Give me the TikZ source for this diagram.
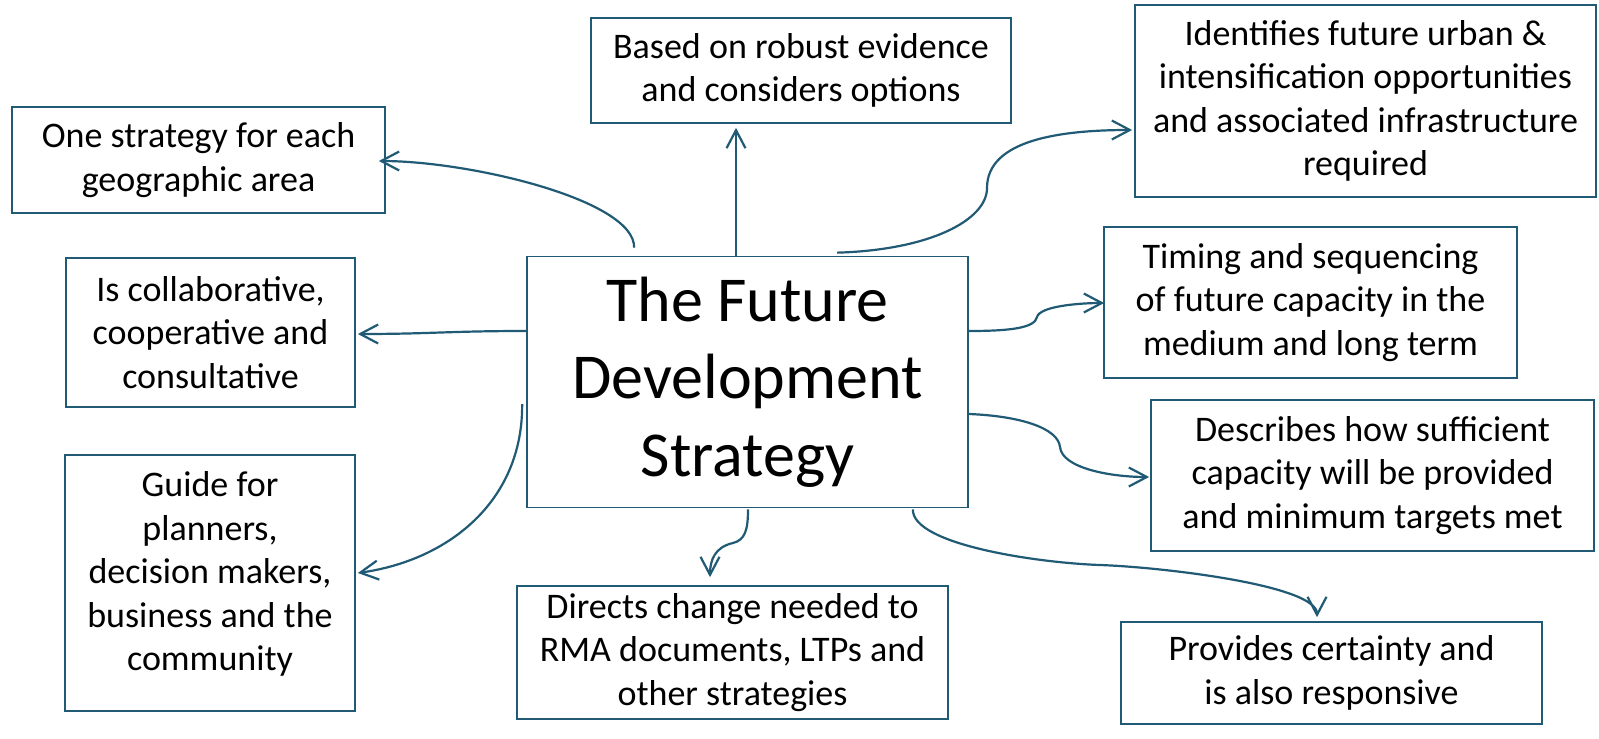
\documentclass[tikz,border=0pt]{standalone}
\usepackage{fontspec}
\setmainfont{Carlito}
\usetikzlibrary{arrows.meta,calc}
\definecolor{teal}{HTML}{215A74}
\tikzset{
  boxtext/.style={align=center, inner sep=0pt, font=\fontsize{18}{21.7}\selectfont, text=black},
  box/.style={boxtext, draw=teal, line width=0.85pt},
  bigbox/.style={box, font=\fontsize{32}{38.8}\selectfont},
  conn/.style={draw=teal, line width=1.1pt, -{Straight Barb[length=9pt,width=9.5pt,line width=1.1pt]}}
}
\begin{document}
\begin{tikzpicture}[x=0.5pt,y=-0.5pt]
\fill[white] (0,0) rectangle (1599,738);
\useasboundingbox (0,0) rectangle (1599,738);

\node[bigbox, minimum width=220.5pt, minimum height=125.5pt] (c) at (747.5,382) {The Future\\Development\\Strategy};
\node[box, minimum width=186.5pt, minimum height=53pt] (one) at (198.5,160) {One strategy for each\\geographic area};
\node[box, minimum width=144.5pt, minimum height=74.5pt] (collab) at (210.5,332.5) {Is collaborative,\\cooperative and\\consultative};
\node[box, minimum width=145pt, minimum height=128pt] (guide) at (210,583) {};
\node[boxtext] (guidetext) at ($(guide.center)+(0,-9)$) {Guide for\\planners,\\decision makers,\\business and the\\community};
\node[box, minimum width=210pt, minimum height=52.5pt] (based) at (801,70.5) {Based on robust evidence\\and considers options};
\node[box, minimum width=230.5pt, minimum height=96pt] (iden) at (1365.5,101) {Identifies future urban \&\\intensification opportunities\\and associated infrastructure\\required};
\node[box, minimum width=206.5pt, minimum height=75.5pt] (timing) at (1310.5,302.5) {Timing and sequencing\\of future capacity in the\\medium and long term};
\node[box, minimum width=221.5pt, minimum height=75.5pt] (desc) at (1372.5,475.5) {Describes how sufficient\\capacity will be provided\\and minimum targets met};
\node[box, minimum width=215.5pt, minimum height=66.5pt] (directs) at (732.5,652.5) {Directs change needed to\\RMA documents, LTPs and\\other strategies};
\node[box, minimum width=210.5pt, minimum height=51pt] (prov) at (1331.5,673) {Provides certainty and\\is also responsive};

% connectors
\draw[conn] ($(c.north west)+(108,-8)$) .. controls (635,200) and (470,161) .. ($(one.east)+(-7,1)$);
\draw[conn] ($(c.north)+(-11.5,0)$) -- ($(based.south)+(-65,4)$);
\draw[conn] ($(c.north west)+(311,-3)$) .. controls (930,250) and (987,220) .. (987,188)
  .. controls (987,140) and (1060,130) .. ($(iden.west)+(-2,29)$);
\draw[conn] ($(c.west)+(0,-51)$) .. controls (450,331) and (430,334) .. ($(collab.east)+(2,1.5)$);
\draw[conn] ($(c.west)+(-4,22)$) .. controls (523,500) and (450,560) .. ($(guide.east)+(2,-10)$);
\draw[conn] ($(c.south)+(0.5,1)$) .. controls (748,530) and (745,540) .. (733,543)
  .. controls (715,547) and (710,560) .. ($(directs.north)+(-22.5,-8)$);
\draw[conn] ($(c.east)+(0,-51)$) .. controls (1010,331) and (1035,328) .. (1037,317)
  .. controls (1040,306) and (1080,303) .. ($(timing.west)+(1,0.5)$);
\draw[conn] ($(c.east)+(0,32)$) .. controls (1020,416) and (1058,428) .. (1060,447)
  .. controls (1062,468) and (1110,477) .. ($(desc.west)+(-1,1.5)$);
\draw[conn] ($(c.south east)+(-56,1)$) .. controls (912,545) and (1040,563) .. (1100,565)
  .. controls (1160,567) and (1317,585) .. ($(prov.north)+(-14.5,-4)$);
\end{tikzpicture}
\end{document}
